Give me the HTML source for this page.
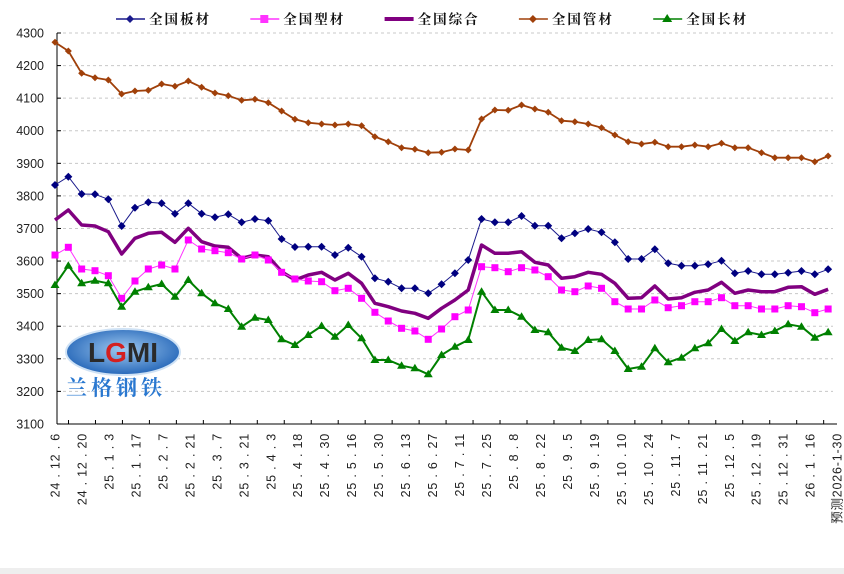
<!DOCTYPE html><html><head><meta charset="utf-8"><style>body{margin:0;background:#fff}svg{display:block}</style></head><body>
<svg id="s" width="844" height="574" xmlns="http://www.w3.org/2000/svg" font-family="Liberation Sans, sans-serif"></svg>
<script>
const S=document.getElementById('s');let h='';
const X=i=>55+13.33*i;
const navy=[185,176.7,194,194.3,199.3,226,207.7,202.3,203.3,213.7,203.3,213.7,217.3,214.3,222.3,219,220.7,239,247,246.7,246.7,255,247.7,256.7,278.3,281.7,288.3,288.3,293.3,284.3,273.3,260,219,222.3,222.3,216,225.7,225.7,238.3,233.3,229,232.3,242.3,259,259,249.3,263.3,265.7,265.7,264.3,260.7,273.3,271,274.3,274.3,272.7,271,274.3,269.3];
const mag=[255,247.3,269,270.7,275.7,298.3,281,269,265,269,240,249,250.7,252.7,259,255,260,272.3,279,281,281.7,290.7,288.3,298.3,312.3,321,328.3,331,339.3,329,316.7,310,266.7,267.7,271.7,267.7,270,276.7,290,291.7,286,288.3,301.7,309,309,300,307.7,305.7,301.7,301.7,297.7,305.7,305.7,309,309,305.7,306.7,312.7,309];
const pur=[220,210,225,226,231.7,254,238.3,233.3,232.3,242.3,228.3,241.7,246,247.3,258.3,255,256.7,271.7,280,275,272.3,280,273.3,283.3,303.3,306.7,311,313.3,318.3,308.3,300,290,245,253.3,253.3,251.7,262.3,265,278.3,276.7,272.3,274.3,283.3,298.3,297.7,286,299,297.7,292.3,290,282.3,293.3,290,291.7,291.7,287.3,286.7,294.3,289.3];
const br=[42.3,51,73.3,77.7,80,94,91,90.3,84,86.3,81,87.3,93,95.7,100.3,99.3,102.7,111,119.3,122.7,124,125,124,125.7,136.7,141.7,147.7,149.3,152.7,152.3,149,150,119,110,110.3,105,109,112.3,120.7,121.7,124,127.7,135,141.7,144,142.3,146.7,146.7,145,146.7,143.3,147.7,147.7,152.7,157.7,157.7,157.7,161.7,156];
const gr=[285,265.7,283.3,280.7,283.3,306.7,291.7,287.3,284,296.7,280,293.3,303.3,309,326.7,317.7,320,339.3,345,335,326,336.7,325,338.3,360,360,365.7,368.3,374.3,355,346.7,340,291.7,310,310,316.7,330,332.3,347.7,351,340,339.3,351,369,366.7,348.3,362.3,357.7,348.3,343.3,329,341,332.3,335,331,324.3,326.7,337.7,332.3];
// grid
for(let k=0;k<=12;k++){const y=33+k*32.58;if(k<12)h+=`<line x1="57" x2="833" y1="${y}" y2="${y}" stroke="#c8c8c8" stroke-dasharray="3,3"/>`;h+=`<text x="44" y="${y+4.5}" font-size="12.5" text-anchor="end" fill="#222">${4300-k*100}</text><line x1="57" x2="61" y1="${y}" y2="${y}" stroke="#000"/>`}
h+=`<line x1="57" x2="57" y1="33" y2="424" stroke="#000"/><line x1="57" x2="837" y1="424" y2="424" stroke="#000"/>`;
const labs=['24.12.6','24.12.20','25.1.3','25.1.17','25.2.7','25.2.21','25.3.7','25.3.21','25.4.3','25.4.18','25.4.30','25.5.16','25.5.30','25.6.13','25.6.27','25.7.11','25.7.25','25.8.8','25.8.22','25.9.5','25.9.19','25.10.10','25.10.24','25.11.7','25.11.21','25.12.5','25.12.19','25.12.31','26.1.16','预测2026-1-30'];
for(let k=0;k<30;k++){const x=55+k*26.97;h+=`<line x1="${x+13.5}" x2="${x+13.5}" y1="424" y2="420" stroke="#000"/>`;const t=labs[k].split('.').join(' . ');h+=`<text transform="translate(${x+4.5},433) rotate(-90)" font-size="12.5" text-anchor="end" letter-spacing="0.8" font-family="Liberation Sans, Noto Sans CJK SC, sans-serif" fill="#222">${k==29?'预测2026-1-30':t}</text>`}
const pl=(d,c,w)=>`<polyline fill="none" stroke="${c}" stroke-width="${w}" stroke-linejoin="round" points="${d.map((y,i)=>X(i)+','+y).join(' ')}"/>`;
const dia=(x,y,r,c)=>`<path d="M${x} ${y-r}L${x+r} ${y}L${x} ${y+r}L${x-r} ${y}Z" fill="${c}"/>`;
h+=pl(br,'#a0400a',1.8);br.forEach((y,i)=>h+=dia(X(i),y,3.5,'#a0400a'));
h+=pl(navy,'#1a1a8c',1);navy.forEach((y,i)=>h+=dia(X(i),y,4,'#000080'));
h+=pl(pur,'#800080',3.5);
h+=pl(mag,'#ff33ff',1);mag.forEach((y,i)=>h+=`<rect x="${X(i)-3.5}" y="${y-3.5}" width="7" height="7" fill="#ff00ff"/>`);
h+=pl(gr,'#008000',2);gr.forEach((y,i)=>h+=`<path d="M${X(i)} ${y-4.5}L${X(i)+4.5} ${y+3}L${X(i)-4.5} ${y+3}Z" fill="#008000"/>`);
// legend
const L=[['全国板材','#1a1a8c','d'],['全国型材','#ff33ff','s'],['全国综合','#800080','l'],['全国管材','#a0400a','d'],['全国长材','#008000','t']];
L.forEach((l,k)=>{const x=115+k*134.3,y=19;h+=`<line x1="${x-43+44}" x2="${x+30}" y1="${y}" y2="${y}" stroke="${l[1]}" stroke-width="${l[2]=='l'?4:1.5}"/>`;
if(l[2]=='d')h+=dia(x+15,y,4,l[1]);if(l[2]=='s')h+=`<rect x="${x+11}" y="${y-4}" width="8" height="8" fill="${l[1]}"/>`;if(l[2]=='t')h+=`<path d="M${x+15} ${y-5}L${x+20} ${y+3}L${x+10} ${y+3}Z" fill="${l[1]}"/>`;
h+=`<text x="${x+34}" y="${y+5}" font-size="13.5" font-weight="bold" letter-spacing="2" font-family="Noto Serif CJK SC, serif" fill="#111">${l[0]}</text>`});
// logo
h+=`<defs><radialGradient id="g" cx="50%" cy="45%" r="60%"><stop offset="0" stop-color="#9fc9f0"/><stop offset="1" stop-color="#1c5fb4"/></radialGradient></defs>
<ellipse cx="123" cy="352" rx="57" ry="23" fill="url(#g)" stroke="#cfe2f5" stroke-width="2"/>
<text x="123" y="362" text-anchor="middle" font-size="28" font-weight="bold" fill="#2a2a2a" font-family="Liberation Sans, sans-serif">L<tspan fill="#d42020">G</tspan>MI</text>
<text x="66" y="395" font-size="21" font-weight="bold" fill="#2a78d0" letter-spacing="4" font-family="Noto Serif CJK SC, serif">兰格钢铁</text>
<rect x="0" y="568" width="844" height="6" fill="#eeeeee"/>`;
S.innerHTML=h;
</script></body></html>
